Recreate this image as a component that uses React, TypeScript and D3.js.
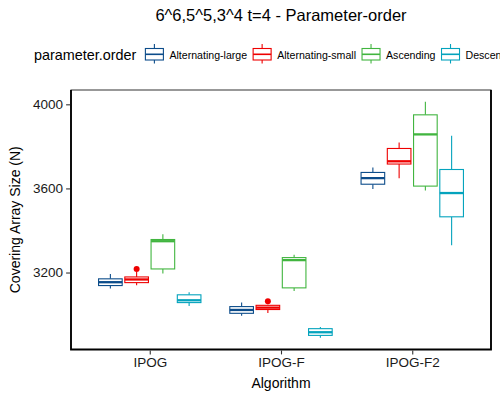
import { useEffect, useRef } from "react";
import * as d3 from "d3";

// five-number summaries per algorithm: [lower whisker, q1, median, q3, upper whisker]
const algorithms = ["IPOG", "IPOG-F", "IPOG-F2"];
const orders = ["Alternating-large", "Alternating-small", "Ascending", "Descending"];

const alternatingLarge = [
	[3124, 3138, 3154, 3170, 3193],
	[2995, 3006, 3022, 3038, 3057],
	[3597, 3620, 3649, 3676, 3700]
];
const alternatingSmall = [
	[3140, 3152, 3167, 3179, 3203],
	[3008, 3024, 3033, 3044, 3047],
	[3648, 3716, 3729, 3790, 3819]
];
const ascending = [
	[3195, 3217, 3349, 3357, 3382],
	[3112, 3127, 3259, 3271, 3284],
	[3590, 3611, 3857, 3950, 4012]
];
const descending = [
	[3041, 3057, 3068, 3094, 3106],
	[2890, 2901, 2916, 2933, 2941],
	[3330, 3465, 3578, 3690, 3850]
];

// outliers: [order index, algorithm index, value]
const outliers: [number, number, number][] = [
	[1, 0, 3217],
	[1, 1, 3063]
];

const yTicks = [3200, 3600, 4000];
const palette = ["#0C4C8A", "#EE0000", "#41B53F", "#04A3BD"];

const FONT = "'Liberation Sans', Arial, Helvetica, sans-serif";

export default function App() {
	const ref = useRef<SVGSVGElement>(null);

	useEffect(() => {
		if (!ref.current) return;
		const svg = d3.select(ref.current);
		svg.selectAll("*").remove();

		const width = 500;
		const height = 400;
		const panel = { left: 71, right: 491, top: 90, bottom: 349.5 };

		const seriesStats = [alternatingLarge, alternatingSmall, ascending, descending];
		const allValues = [
			...seriesStats.flat(2),
			...outliers.map((o) => o[2])
		];
		const [minV, maxV] = d3.extent(allValues) as [number, number];
		const pad = (maxV - minV) * 0.05;

		const y = d3
			.scaleLinear()
			.domain([minV - pad, maxV + pad])
			.range([panel.bottom, panel.top]);

		const x = d3
			.scalePoint()
			.domain(algorithms)
			.range([panel.left, panel.right])
			.padding(0.6);
		const unit = x.step();
		const dodge = d3
			.scaleLinear()
			.domain([0, orders.length - 1])
			.range([-0.3 * unit, 0.3 * unit]);
		const boxW = 0.18 * unit;

		svg.append("rect").attr("width", width).attr("height", height).attr("fill", "#fff");

		// title
		svg
			.append("text")
			.attr("x", (panel.left + panel.right) / 2)
			.attr("y", 21)
			.attr("text-anchor", "middle")
			.attr("font-size", 16.5)
			.attr("fill", "#000")
			.text("6^6,5^5,3^4 t=4 - Parameter-order");

		// legend
		const legend = svg.append("g").attr("font-family", FONT);
		const legendTitle = legend
			.append("text")
			.attr("x", 34)
			.attr("y", 60)
			.attr("font-size", 14.4)
			.attr("fill", "#000")
			.text("parameter.order");
		let cursor = 34 + (legendTitle.node() as SVGTextElement).getComputedTextLength() + 8.5;
		orders.forEach((name, i) => {
			const key = legend.append("g").attr("transform", `translate(${cursor},0)`);
			const c = palette[i];
			key
				.append("line")
				.attr("x1", 9.5)
				.attr("x2", 9.5)
				.attr("y1", 44)
				.attr("y2", 63.5)
				.attr("stroke", c)
				.attr("stroke-width", 1.1);
			key
				.append("rect")
				.attr("x", 0.5)
				.attr("y", 48.5)
				.attr("width", 18)
				.attr("height", 11.5)
				.attr("fill", "#fff")
				.attr("stroke", c)
				.attr("stroke-width", 1.1);
			key
				.append("line")
				.attr("x1", 0.5)
				.attr("x2", 18.5)
				.attr("y1", 54.3)
				.attr("y2", 54.3)
				.attr("stroke", c)
				.attr("stroke-width", 1.6);
			const label = key
				.append("text")
				.attr("x", 24.5)
				.attr("y", 59)
				.attr("font-size", 10.6)
				.attr("fill", "#000")
				.text(name);
			cursor += 24.5 + (label.node() as SVGTextElement).getComputedTextLength() + 5.5;
		});

		// boxes
		const plot = svg.append("g");
		seriesStats.forEach((stats, si) => {
			const c = palette[si];
			stats.forEach((s, ai) => {
				const cx = (x(algorithms[ai]) ?? 0) + dodge(si);
				const [lo, q1, med, q3, hi] = s;
				const g = plot.append("g").attr("stroke", c).attr("fill", "none");
				g.append("line")
					.attr("x1", cx)
					.attr("x2", cx)
					.attr("y1", y(hi))
					.attr("y2", y(q3))
					.attr("stroke-width", 1.1);
				g.append("line")
					.attr("x1", cx)
					.attr("x2", cx)
					.attr("y1", y(q1))
					.attr("y2", y(lo))
					.attr("stroke-width", 1.1);
				g.append("rect")
					.attr("x", cx - boxW / 2)
					.attr("y", y(q3))
					.attr("width", boxW)
					.attr("height", y(q1) - y(q3))
					.attr("fill", "#fff")
					.attr("stroke-width", 1.1);
				g.append("line")
					.attr("x1", cx - boxW / 2)
					.attr("x2", cx + boxW / 2)
					.attr("y1", y(med))
					.attr("y2", y(med))
					.attr("stroke-width", 2.3);
			});
		});

		plot
			.selectAll("circle.outlier")
			.data(outliers)
			.join("circle")
			.attr("class", "outlier")
			.attr("cx", (o) => (x(algorithms[o[1]]) ?? 0) + dodge(o[0]))
			.attr("cy", (o) => y(o[2]))
			.attr("r", 3)
			.attr("fill", (o) => palette[o[0]]);

		// panel border
		svg
			.append("rect")
			.attr("x", panel.left)
			.attr("y", panel.top)
			.attr("width", panel.right - panel.left)
			.attr("height", panel.bottom - panel.top)
			.attr("fill", "none")
			.attr("stroke", "#333")
			.attr("stroke-width", 1);
		svg
			.append("path")
			.attr(
				"d",
				`M${panel.left},${panel.top}V${panel.bottom}H${panel.right}V${panel.top}`
			)
			.attr("fill", "none")
			.attr("stroke", "#000")
			.attr("stroke-width", 1.8);

		// y axis
		const yAxis = svg
			.append("g")
			.attr("transform", `translate(${panel.left - 0.9},0)`)
			.call(d3.axisLeft(y).tickValues(yTicks).tickSize(4).tickPadding(3).tickFormat((d) => `${d}`));
		yAxis.select(".domain").remove();
		yAxis.selectAll("line").attr("stroke", "#333").attr("stroke-width", 1.1);
		yAxis
			.selectAll("text")
			.attr("font-family", FONT)
			.attr("font-size", 13.5)
			.attr("fill", "#1a1a1a");

		// x axis
		const xAxis = svg
			.append("g")
			.attr("transform", `translate(0,${panel.bottom + 0.9})`)
			.call(d3.axisBottom(x).tickSize(4).tickPadding(3));
		xAxis.select(".domain").remove();
		xAxis.selectAll("line").attr("stroke", "#333").attr("stroke-width", 1.1);
		xAxis
			.selectAll("text")
			.attr("font-family", FONT)
			.attr("font-size", 13.5)
			.attr("fill", "#1a1a1a");

		// axis titles
		svg
			.append("text")
			.attr("x", (panel.left + panel.right) / 2)
			.attr("y", 388)
			.attr("text-anchor", "middle")
			.attr("font-size", 14)
			.attr("fill", "#000")
			.text("Algorithm");
		svg
			.append("text")
			.attr("transform", `translate(20,${(panel.top + panel.bottom) / 2}) rotate(-90)`)
			.attr("text-anchor", "middle")
			.attr("font-size", 14)
			.attr("fill", "#000")
			.text("Covering Array Size (N)");
	}, []);

	return (
		<svg
			ref={ref}
			width={500}
			height={400}
			style={{ position: "absolute", left: 0, top: 0, fontFamily: FONT }}
			fontFamily={FONT}
		/>
	);
}
